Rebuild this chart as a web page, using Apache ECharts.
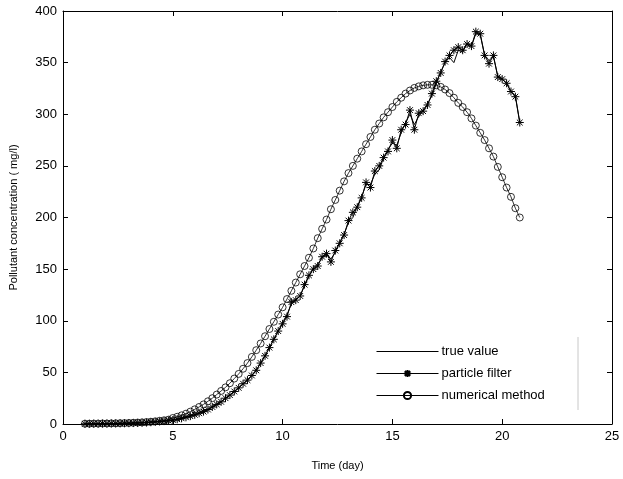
<!DOCTYPE html>
<html>
<head>
<meta charset="utf-8">
<script src="https://cdn.jsdelivr.net/npm/echarts@6/dist/echarts.min.js"></script>
<style>html,body{margin:0;padding:0;background:#fff;}#c{width:623px;height:479px;}</style>
</head>
<body>
<div id="c"></div>
<script>
var days = [1.0,1.2,1.4,1.6,1.8,2.0,2.2,2.4,2.6,2.8,
3.0,3.2,3.4,3.6,3.8,4.0,4.2,4.4,4.6,4.8,
5.0,5.2,5.4,5.6,5.8,6.0,6.2,6.4,6.6,6.8,
7.0,7.2,7.4,7.6,7.8,8.0,8.2,8.4,8.6,8.8,
9.0,9.2,9.4,9.6,9.8,10.0,10.2,10.4,10.6,10.8,
11.0,11.2,11.4,11.6,11.8,12.0,12.2,12.4,12.6,12.8,
13.0,13.2,13.4,13.6,13.8,14.0,14.2,14.4,14.6,14.8,
15.0,15.2,15.4,15.6,15.8,16.0,16.2,16.4,16.6,16.8,
17.0,17.2,17.4,17.6,17.8,18.0,18.2,18.4,18.6,18.8,
19.0,19.2,19.4,19.6,19.8,20.0,20.2,20.4,20.6,20.8];

var trueValue = [0.2,0.2,0.3,0.3,0.4,0.4,0.5,0.5,0.6,0.7,
0.8,0.9,1.0,1.2,1.4,1.7,2.0,2.4,2.8,3.3,
3.9,4.6,5.5,6.5,7.6,8.9,10.4,12.0,14.0,16.5,
19,21.5,25,28,31.5,35,39,42.5,47,52,
59,66,74,82,90,98,106,116,121,124,
134,143,151,155,161,164,160,166,176,184,
195,200,211,220,232,232,242,246,258,266,
272,270,282,292,300,290,298,304,310,318,
330,341,350,355,350,362,360,369,366,378,
377,357,352,356,337,334,330,322,318,292];

var particleFilter = [0.2,0.2,0.3,0.3,0.4,0.4,0.5,0.5,0.6,0.7,
0.8,0.9,1.0,1.2,1.4,1.7,2.0,2.4,2.8,3.3,
3.9,4.6,5.5,6.5,7.6,8.9,10.4,12.0,14.0,16.5,
19,21.5,25,28,31.5,35,39,42.5,47,52,
59,66,74,82,90,97,104,118,120,124,
135,144,150,153,162,165,157,168,175,183,
197,205,210,219,234,229,245,250,258,264,
275,267,285,290,304,285,301,303,309,320,
332,340,351,357,362,365,362,368,366,380,
378,357,349,357,336,334,330,322,317,292];

var numericalMethod = [0.3,0.3,0.4,0.4,0.5,0.5,0.6,0.7,0.8,0.9,
1.0,1.2,1.4,1.6,1.9,2.2,2.6,3.1,3.6,4.2,
5.8,7.0,8.4,10.0,12.0,14.2,16.5,19.0,22.0,25.0,
28.5,32,35.5,39.5,44,48.5,53.5,59,65,71.5,
78,85,92,99,106,113,121,129,137,145,
153,161,170,180,189,198,208,217,226,235,
243,250,257,264,271,278,285,291,297,302,
307,312,316,320,323,325.5,327,328,328.5,328.5,
328,326.5,324,320.5,316,311,307,302,296,289,
282,275,267,259,249,239,229,220,209,200];

var xTicks = {min: 0, max: 25, interval: 5};
var yTicks = {min: 0, max: 400, interval: 50};

function pairs(v){ return days.map(function(d,i){ return [d, v[i]]; }); }

var starPath = 'path://M0,-5L0,5M-5,0L5,0M-3.6,-3.6L3.6,3.6M-3.6,3.6L3.6,-3.6';
var linePath = 'path://M0,0L60,0L60,1L0,1Z';
var font = 'Liberation Sans, Arial, sans-serif';

function boxAxis(extra){
  var a = {
    type: 'value',
    axisLine: {show: true, onZero: false, lineStyle: {color: '#000', width: 1}},
    axisTick: {show: true, inside: true, length: 5, lineStyle: {color: '#000', width: 1}},
    axisLabel: {show: false},
    splitLine: {show: false}
  };
  for (var k in extra) a[k] = extra[k];
  return a;
}

var chart = echarts.init(document.getElementById('c'), null, {renderer: 'canvas'});
chart.setOption({
  animation: false,
  backgroundColor: '#fff',
  grid: {left: 63, right: 11, top: 11, bottom: 55},
  legend: {
    orient: 'vertical',
    left: 371, top: 340,
    itemWidth: 62, itemHeight: 9, itemGap: 9,
    lineStyle: {width: 1},
    textStyle: {fontFamily: font, fontSize: 13, color: '#000', padding: [0,0,0,-2]},
    data: [
      {name: 'true value', icon: linePath},
      {name: 'particle filter'},
      {name: 'numerical method'}
    ]
  },
  xAxis: [
    boxAxis({position: 'bottom', min: xTicks.min, max: xTicks.max, interval: xTicks.interval,
      name: 'Time (day)', nameLocation: 'middle', nameGap: 36,
      nameTextStyle: {fontFamily: font, fontSize: 11, color: '#000'},
      axisLabel: {show: true, fontFamily: font, fontSize: 13, color: '#000', margin: 6}}),
    boxAxis({position: 'top', min: xTicks.min, max: xTicks.max, interval: xTicks.interval})
  ],
  yAxis: [
    boxAxis({position: 'left', min: yTicks.min, max: yTicks.max, interval: yTicks.interval,
      name: 'Pollutant concentration ( mg/l)', nameLocation: 'middle', nameGap: 44,
      nameTextStyle: {fontFamily: font, fontSize: 11, color: '#000'},
      axisLabel: {show: true, fontFamily: font, fontSize: 13, color: '#000', margin: 6}}),
    boxAxis({position: 'right', min: yTicks.min, max: yTicks.max, interval: yTicks.interval})
  ],
  graphic: [{
    type: 'line', shape: {x1: 578, y1: 337, x2: 578, y2: 410},
    style: {stroke: '#c8c8c8', lineWidth: 1}
  }],
  series: [{
    name: 'true value', type: 'line', data: pairs(trueValue),
    showSymbol: false, symbol: 'none',
    lineStyle: {color: '#000', width: 1},
    itemStyle: {color: '#000'}
  }, {
    name: 'particle filter', type: 'line', data: pairs(particleFilter),
    symbol: starPath, symbolSize: 8, showAllSymbol: true,
    lineStyle: {color: '#000', width: 1},
    itemStyle: {color: '#000', borderColor: '#000', borderWidth: 1}
  }, {
    name: 'numerical method', type: 'line', data: pairs(numericalMethod),
    symbol: 'circle', symbolSize: 7, showAllSymbol: true,
    lineStyle: {color: '#000', width: 0.8},
    itemStyle: {color: 'rgba(255,255,255,0)', borderColor: '#000', borderWidth: 0.8}
  }]
});
</script>
</body>
</html>
